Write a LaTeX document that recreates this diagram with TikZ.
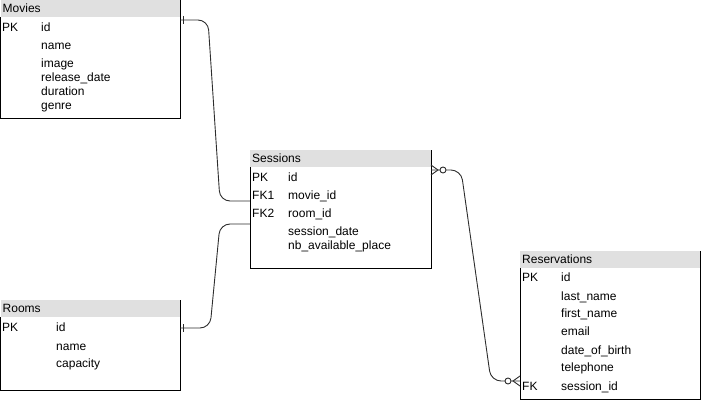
\documentclass[tikz,border=0pt]{standalone}
\usepackage{fontspec}
\setmainfont{Liberation Sans}
\usetikzlibrary{positioning, arrows.meta}

\begin{document}
\begin{tikzpicture}[x=1pt, y=-1pt,
    every node/.style={font=\fontsize{12}{14}\selectfont},
    tablehead/.style={fill=headcolor, anchor=north west, minimum height=17pt, inner xsep=2pt, inner ysep=0pt, align=left},
    tableborder/.style={line width=1pt, linecolor},
    field/.style={anchor=base west, inner sep=0pt},
    relation/.style={line width=0.9pt, linkcolor, rounded corners=10pt},
    marker/.style={line width=0.9pt, linkcolor},
    optional/.style={line width=0.9pt, linkcolor, fill=white}]
    \useasboundingbox (0,0) rectangle (701,401);

    % Define colors
    \definecolor{headcolor}{RGB}{224, 224, 224}
    \definecolor{linecolor}{RGB}{0, 0, 0}
    \definecolor{linkcolor}{RGB}{45, 45, 45}

    % Movies table
    \node[tablehead, text width=175.5pt] (movies) at (0.5, 0) {Movies};
    \draw[tableborder] (movies.south west) -- (0.5, 119) -| (movies.north east);
    \node[field] (movies pk) at (2, 31.5) {PK};
    \node[field] (movies id) at (41, 31.5) {id};
    \node[field] (movies name) at (41, 50) {name};
    \node[field] (movies image) at (41, 67.5) {image};
    \node[field] (movies release) at (41, 81.5) {release\_date};
    \node[field] (movies duration) at (41, 95.5) {duration};
    \node[field] (movies genre) at (41, 109.5) {genre};

    % Rooms table
    \node[tablehead, text width=175.5pt] (rooms) at (0.5, 300) {Rooms};
    \draw[tableborder] (rooms.south west) -- (0.5, 390) -| (rooms.north east);
    \node[field] (rooms pk) at (2, 331.5) {PK};
    \node[field] (rooms id) at (56, 331.5) {id};
    \node[field] (rooms name) at (56, 350) {name};
    \node[field] (rooms capacity) at (56, 367.5) {capacity};

    % Sessions table
    \node[tablehead, text width=177pt] (sessions) at (250, 150) {Sessions};
    \draw[tableborder] (sessions.south west) -- (250, 268) -| (sessions.north east);
    \node[field] (sessions pk) at (252, 181) {PK};
    \node[field] (sessions id) at (288, 181) {id};
    \node[field] (sessions fk1) at (252, 199.5) {FK1};
    \node[field] (sessions movie) at (288, 199.5) {movie\_id};
    \node[field] (sessions fk2) at (252, 217) {FK2};
    \node[field] (sessions room) at (288, 217) {room\_id};
    \node[field] (sessions date) at (288, 235) {session\_date};
    \node[field] (sessions place) at (288, 249.5) {nb\_available\_place};

    % Reservations table
    \node[tablehead, text width=176pt] (reservations) at (520, 251) {Reservations};
    \draw[tableborder] (reservations.south west) -- (520, 399) -| (reservations.north east);
    \node[field] (reservations pk) at (522, 281.5) {PK};
    \node[field] (reservations id) at (561, 281.5) {id};
    \node[field] (reservations last) at (561, 300) {last\_name};
    \node[field] (reservations first) at (561, 317.5) {first\_name};
    \node[field] (reservations email) at (561, 335.5) {email};
    \node[field] (reservations birth) at (561, 354) {date\_of\_birth};
    \node[field] (reservations phone) at (561, 371.5) {telephone};
    \node[field] (reservations fk) at (522, 390) {FK};
    \node[field] (reservations session) at (561, 390) {session\_id};

    % Link end points
    \coordinate (movies link) at (180, 20);
    \coordinate (sessions movie link) at (250, 201);
    \coordinate (rooms link) at (180, 328);
    \coordinate (sessions room link) at (250, 224);
    \coordinate (sessions link) at (431, 170);
    \coordinate (reservations link) at (520, 381);

    % Movies - Sessions
    \draw[relation] (movies link) -- (208, 20) -- (220, 201) -- (sessions movie link);
    \draw[marker] ([xshift=3pt]movies link) ++(0, -4) -- ++(0, 8);

    % Rooms - Sessions
    \draw[relation] (rooms link) -- (210, 328) -- (220, 224) -- (sessions room link);
    \draw[marker] ([xshift=3pt]rooms link) ++(0, -4) -- ++(0, 8);

    % Sessions - Reservations
    \draw[relation] (sessions link) -- (461, 170) -- (491, 381) -- (reservations link);
    \draw[marker] (sessions link) ++(0, -5) -- ++(7, 5) -- ++(-7, 5);
    \draw[optional] ([xshift=12pt]sessions link) circle (3);
    \draw[marker] (reservations link) ++(0, -5) -- ++(-7, 5) -- ++(7, 5);
    \draw[optional] ([xshift=-12pt]reservations link) circle (3);

\end{tikzpicture}
\end{document}
